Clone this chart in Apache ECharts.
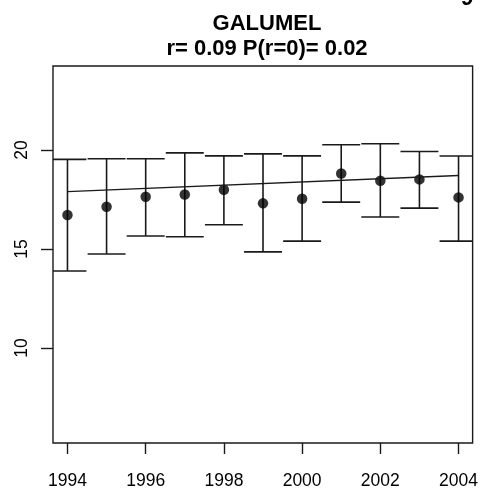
<!DOCTYPE html>
<html><head><meta charset="utf-8">
<script src="https://cdn.jsdelivr.net/npm/echarts@6/dist/echarts.min.js"></script>
<style>html,body{margin:0;padding:0;background:#fff}#c{width:481px;height:493px}</style>
</head><body><div id="c"></div>
<script>
var years = [1994,1995,1996,1997,1998,1999,2000,2001,2002,2003,2004];
var means = [16.72,17.14,17.64,17.76,18.00,17.31,17.54,18.82,18.45,18.52,17.61];
var upper = [19.53,19.56,19.56,19.86,19.71,19.81,19.71,20.27,20.32,19.93,19.70];
var lower = [13.89,14.75,15.66,15.62,16.23,14.86,15.40,17.37,16.62,17.07,15.40];
var fitLine = [[1994,17.90],[2004,18.72]];
var xTicks = [1994,1996,1998,2000,2002,2004];
var yTicks = [10,15,20];
var titleText = 'GALUMEL';
var subText = 'r= 0.09 P(r=0)= 0.02';

var chart = echarts.init(document.getElementById('c'));
var font = 'Liberation Sans, Arial, sans-serif';
var ink = '#1a1a1a';
var capHalf = 0.485;
var errData = years.map(function(y,i){return [y, lower[i], upper[i]];});
chart.setOption({
  animation:false,
  backgroundColor:'#fff',
  grid:{left:53, top:66, right:5, bottom:50, show:true, borderColor:ink, borderWidth:1.4, backgroundColor:'transparent'},
  title:[
    {text:titleText, left:262, top:8, textAlign:'center', textStyle:{fontFamily:font, fontWeight:'bold', fontSize:22, color:'#000'}},
    {text:subText, left:262, top:33, textAlign:'center', textStyle:{fontFamily:font, fontWeight:'bold', fontSize:22, color:'#000'}}
  ],
  graphic:[{type:'text', left:461, top:-12, style:{text:'9', font:'bold 22px Liberation Sans, Arial, sans-serif', fill:'#000'}}],
  xAxis:{type:'value', min:1993.63, max:2004.36, axisLine:{show:false}, splitLine:{show:false},
    axisTick:{show:true, customValues:xTicks, length:11, lineStyle:{color:ink, width:1.4}},
    axisLabel:{customValues:xTicks, margin:29, fontFamily:font, fontSize:17.5, color:'#000', formatter:function(v){return String(v);}}},
  yAxis:{type:'value', min:5.2, max:24.25, axisLine:{show:false}, splitLine:{show:false},
    axisTick:{show:true, customValues:yTicks, length:12, lineStyle:{color:ink, width:1.4}},
    axisLabel:{customValues:yTicks, rotate:90, margin:31, fontFamily:font, fontSize:17.5, color:'#000', verticalAlign:'middle', align:'center'}},
  series:[
    {type:'custom', clip:true, data:errData, encode:{x:0,y:[1,2]},
     renderItem:function(params, api){
       var x = api.value(0), lo = api.value(1), hi = api.value(2);
       var pLo = api.coord([x, lo]), pHi = api.coord([x, hi]);
       var l1 = api.coord([x-capHalf, hi]), r1 = api.coord([x+capHalf, hi]);
       var l2 = api.coord([x-capHalf, lo]), r2 = api.coord([x+capHalf, lo]);
       var st = {stroke:ink, lineWidth:1.6};
       return {type:'group', children:[
         {type:'line', shape:{x1:pLo[0], y1:pLo[1], x2:pHi[0], y2:pHi[1]}, style:st},
         {type:'line', shape:{x1:l1[0], y1:l1[1], x2:r1[0], y2:r1[1]}, style:st},
         {type:'line', shape:{x1:l2[0], y1:l2[1], x2:r2[0], y2:r2[1]}, style:st}
       ]};
     }},
    {type:'line', data:fitLine, symbol:'none', lineStyle:{color:ink, width:1.4}},
    {type:'scatter', data:years.map(function(y,i){return [y, means[i]];}), symbol:'circle', symbolSize:10.5, itemStyle:{color:'#000'}}
  ]
});
</script></body></html>
